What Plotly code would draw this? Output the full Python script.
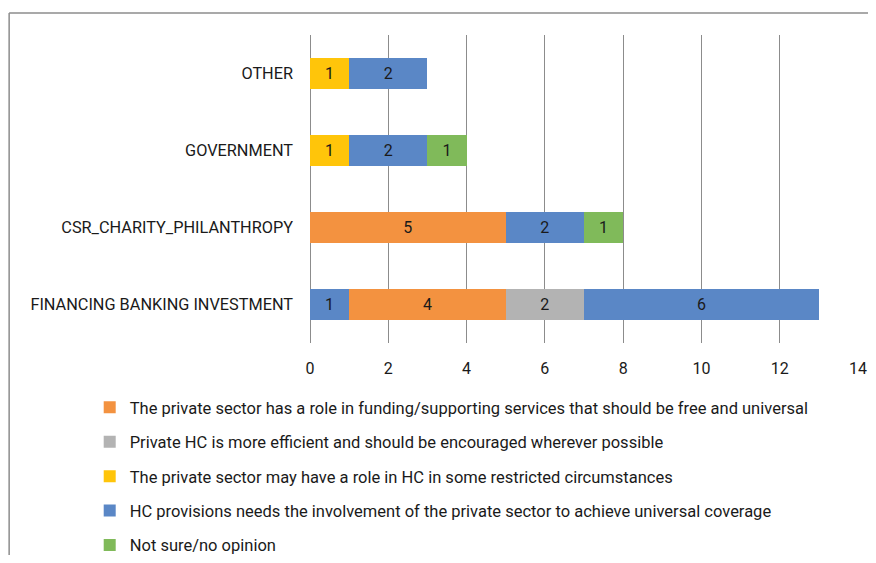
import plotly.graph_objects as go

# Categories, bottom to top
CATEGORIES = [
    "FINANCING BANKING INVESTMENT",
    "CSR_CHARITY_PHILANTHROPY",
    "GOVERNMENT",
    "OTHER",
]

# Series values in stacking order (None = no segment)
BLUE_LEAD = [1, None, None, None]
FUNDING_ROLE = [4, 5, None, None]
MORE_EFFICIENT = [2, None, None, None]
RESTRICTED_ROLE = [None, None, 1, 1]
NEEDS_PRIVATE = [6, 2, 2, 2]
NOT_SURE = [None, 1, 1, None]

SERIES_NAMES = {
    "funding": "The private sector has a role in funding/supporting services that should be free and universal",
    "efficient": "Private HC is more efficient and should be encouraged wherever possible",
    "restricted": "The private sector may have a role in HC in some restricted circumstances",
    "needs": "HC provisions needs the involvement of the private sector to achieve universal coverage",
    "notsure": "Not sure/no opinion",
}

COLORS = {
    "funding": "#F39240",
    "efficient": "#B3B3B3",
    "restricted": "#FFC50A",
    "needs": "#5A87C6",
    "notsure": "#80BA5A",
}

FONT = "Roboto, Arial, sans-serif"
TEXT = "#1a1a1a"
GRID = "#8c8c8c"

# (values, key, show in legend, legend rank)
traces = [
    (BLUE_LEAD, "needs", False, 40),
    (FUNDING_ROLE, "funding", True, 10),
    (MORE_EFFICIENT, "efficient", True, 20),
    (RESTRICTED_ROLE, "restricted", True, 30),
    (NEEDS_PRIVATE, "needs", True, 40),
    (NOT_SURE, "notsure", True, 50),
]

fig = go.Figure()
for values, key, show, rank in traces:
    fig.add_trace(
        go.Bar(
            y=CATEGORIES,
            x=values,
            orientation="h",
            name=SERIES_NAMES[key],
            marker=dict(color=COLORS[key], line=dict(width=0)),
            texttemplate="%{x}",
            textposition="inside",
            insidetextanchor="middle",
            textangle=0,
            constraintext="none",
            textfont=dict(family=FONT, size=16, color=TEXT),
            showlegend=show,
            legendrank=rank,
            legendgroup=key + ("_lead" if not show else ""),
            hoverinfo="x+name",
        )
    )

# Frame lines (top and left edges of the original chart border)
shapes = [
    dict(type="line", xref="paper", yref="paper", x0=-0.549, x1=1.1,
         y0=1.0714, y1=1.0714, line=dict(color=GRID, width=1.5)),
    dict(type="line", xref="paper", yref="paper", x0=-0.549, x1=-0.549,
         y0=1.0714, y1=-0.75, line=dict(color=GRID, width=1.5)),
]

# page body has an 8px margin, so the figure is 16px smaller than the window
fig.update_layout(
    barmode="stack",
    bargap=0.61,
    width=860,
    height=547,
    margin=dict(l=302, r=10, t=27, b=212, autoexpand=False),
    paper_bgcolor="white",
    plot_bgcolor="white",
    font=dict(family=FONT, size=16, color=TEXT),
    shapes=shapes,
    legend=dict(
        orientation="v",
        x=-0.402,
        xanchor="left",
        y=-0.1526,
        yanchor="top",
        traceorder="grouped",
        tracegroupgap=10,
        font=dict(family=FONT, size=16.5, color=TEXT),
        bgcolor="rgba(0,0,0,0)",
    ),
    xaxis=dict(
        range=[0, 14],
        dtick=2,
        showgrid=True,
        gridcolor=GRID,
        gridwidth=1.3,
        zeroline=True,
        zerolinecolor=GRID,
        zerolinewidth=1.3,
        showline=False,
        ticks="outside",
        ticklen=11,
        tickcolor="rgba(0,0,0,0)",
        tickfont=dict(family=FONT, size=16, color=TEXT),
        automargin=False,
        fixedrange=True,
    ),
    yaxis=dict(
        type="category",
        categoryorder="array",
        categoryarray=CATEGORIES,
        showgrid=False,
        showline=False,
        ticklabelstandoff=16,
        tickfont=dict(family=FONT, size=16.3, color=TEXT),
        automargin=False,
        fixedrange=True,
    ),
)

fig.write_html("out.html")
